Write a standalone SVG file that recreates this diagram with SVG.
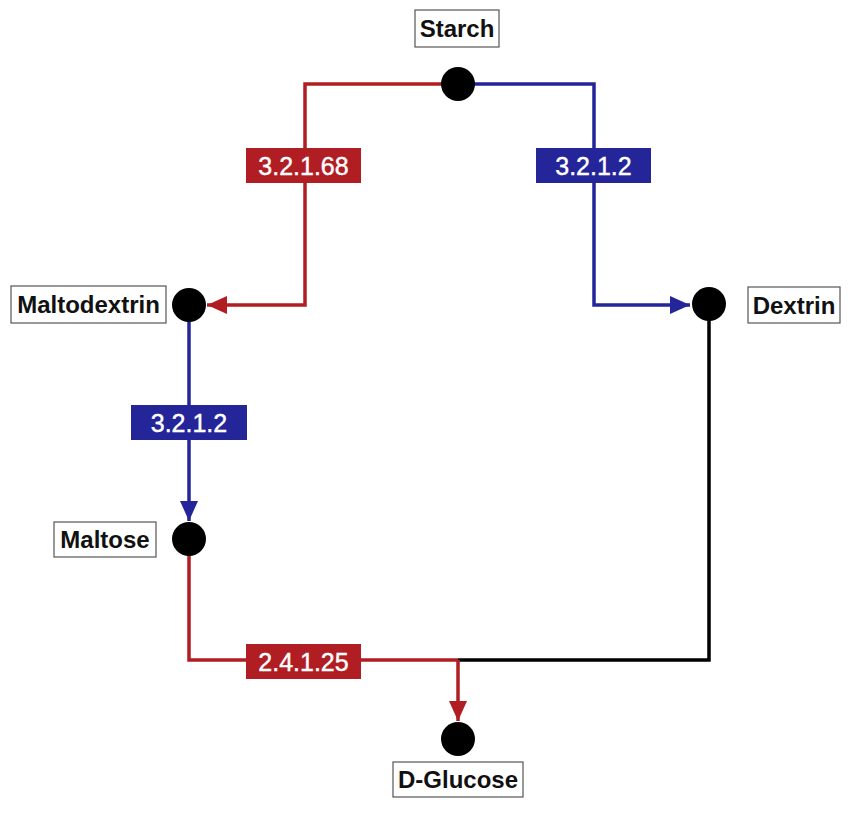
<svg xmlns="http://www.w3.org/2000/svg" width="850" height="813" viewBox="0 0 850 813">
<defs>
<style>
.lbl rect{fill:#fff;stroke:#555;stroke-width:1.2}
.lbl text{font-family:"Liberation Sans",Arial,sans-serif;font-weight:bold;font-size:24px;fill:#111;text-anchor:middle}
.node circle{fill:#000}
.ec text{font-family:"Liberation Sans",Arial,sans-serif;font-size:25px;fill:#fff;text-anchor:middle;stroke:#fff;stroke-width:0.4}
.red{stroke:#b01e23}
.blue{stroke:#25259a}
.blk{stroke:#000}
.conn path{fill:none;stroke-width:3.5}
.shadow{fill:#000;opacity:0.12}
</style>
<marker id="ar" viewBox="0 0 20 18" refX="20" refY="9" markerWidth="20" markerHeight="18" markerUnits="userSpaceOnUse" orient="auto"><path d="M0,0 L20,9 L0,18 Z" fill="#b01e23"/></marker>
<marker id="ab" viewBox="0 0 20 18" refX="20" refY="9" markerWidth="20" markerHeight="18" markerUnits="userSpaceOnUse" orient="auto"><path d="M0,0 L20,9 L0,18 Z" fill="#25259a"/></marker>
</defs>
<rect width="850" height="813" fill="#fff"/>
<g id="connectors" class="conn">
<path class="red" d="M458,84 H305 V305 H207" marker-end="url(#ar)"/>
<path class="blue" d="M458,84 H594 V305 H690" marker-end="url(#ab)"/>
<path class="blue" d="M189,305 V521" marker-end="url(#ab)"/>
<path class="red" d="M189,539 V660 H458"/>
<path class="blk" d="M709,303 V660 H458"/>
<path class="red" d="M458,660 V721" marker-end="url(#ar)"/>
</g>
<g id="ec-3.2.1.68" class="ec"><rect x="246" y="148" width="115" height="35" fill="#b01e23"/><text x="303.5" y="174.5">3.2.1.68</text></g>
<g id="ec-3.2.1.2-a" class="ec"><rect x="536" y="148" width="115" height="35" fill="#25259a"/><text x="593.5" y="174.5">3.2.1.2</text></g>
<g id="ec-3.2.1.2-b" class="ec"><rect x="131" y="405" width="116" height="35" fill="#25259a"/><text x="189" y="431.5">3.2.1.2</text></g>
<g id="ec-2.4.1.25" class="ec"><rect x="246" y="644" width="115" height="35" fill="#b01e23"/><text x="303.5" y="670.5">2.4.1.25</text></g>
<g id="starch" class="node">
<circle cx="458" cy="84" r="17"/>
<g class="lbl"><rect class="shadow" x="417" y="12" width="84" height="37" style="stroke:none"/><rect x="415" y="10" width="84" height="37"/><text x="457" y="37">Starch</text></g>
</g>
<g id="maltodextrin" class="node">
<circle cx="189" cy="305" r="17"/>
<g class="lbl"><rect class="shadow" x="13" y="288" width="155" height="37" style="stroke:none"/><rect x="11" y="286" width="155" height="37"/><text x="88.5" y="313">Maltodextrin</text></g>
</g>
<g id="dextrin" class="node">
<circle cx="709" cy="304" r="17"/>
<g class="lbl"><rect class="shadow" x="750" y="289" width="92" height="36" style="stroke:none"/><rect x="748" y="287" width="92" height="36"/><text x="794" y="313.5">Dextrin</text></g>
</g>
<g id="maltose" class="node">
<circle cx="189" cy="539" r="17"/>
<g class="lbl"><rect class="shadow" x="56" y="524" width="102" height="35" style="stroke:none"/><rect x="54" y="522" width="102" height="35"/><text x="105" y="548">Maltose</text></g>
</g>
<g id="d-glucose" class="node">
<circle cx="458" cy="739" r="17"/>
<g class="lbl"><rect class="shadow" x="395" y="764" width="130" height="35" style="stroke:none"/><rect x="393" y="762" width="130" height="35"/><text x="458" y="788">D-Glucose</text></g>
</g>
</svg>
